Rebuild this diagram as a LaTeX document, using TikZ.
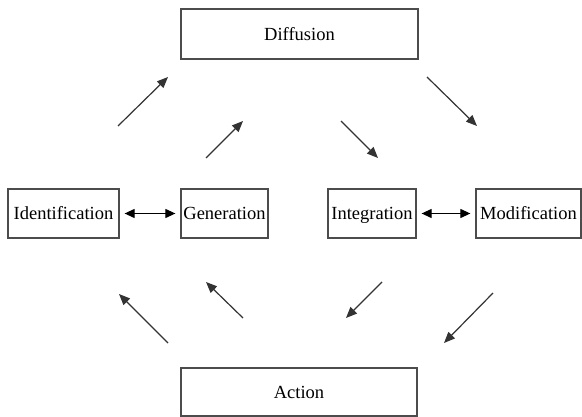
\documentclass[tikz,border=0pt]{standalone}
\usepackage{fontspec}
\setmainfont{Liberation Serif}
\usetikzlibrary{arrows.meta}
\begin{document}
\begin{tikzpicture}[x=1pt,y=-1pt,
  stage/.style={draw=black!70, line width=1.3pt, inner sep=0pt, align=center,
    font=\fontsize{18.5}{20}\selectfont, text height=13pt, text depth=0pt,
    minimum height=49pt},
  flow/.style={draw=black!80, line width=1.2pt, -{Triangle[length=11pt,width=9pt]}},
  link/.style={draw=black, line width=1.2pt, {Triangle[length=10pt,width=9pt]}-{Triangle[length=10pt,width=9pt]}, shorten >=5pt, shorten <=5pt}]
\useasboundingbox (0,0) rectangle (582,417);
% stage boxes
\node[stage, minimum width=237pt, minimum height=50pt] (diff) at (299.5,34) {Diffusion};
\node[stage, minimum width=236pt, minimum height=48pt] (act) at (299,392) {Action};
\node[stage, minimum width=111pt] (ident) at (63.5,213.5) {Identification};
\node[stage, minimum width=87pt] (gen) at (224.5,213.5) {Generation};
\node[stage, minimum width=88pt] (integ) at (372,213.5) {Integration};
\node[stage, minimum width=105pt] (modif) at (528.5,213.5) {Modification};
% two-way links
\draw[link] (ident) -- (gen);
\draw[link] (integ) -- (modif);
% free-standing cycle arrows
\coordinate (a1s) at (118,126); \coordinate (a1e) at (168,77);
\coordinate (a2s) at (206,158); \coordinate (a2e) at (243,121);
\coordinate (a3s) at (341,121); \coordinate (a3e) at (378,158);
\coordinate (a4s) at (427,77);  \coordinate (a4e) at (477,126);
\coordinate (a5s) at (168,343); \coordinate (a5e) at (119,294);
\coordinate (a6s) at (243,318); \coordinate (a6e) at (206,282);
\coordinate (a7s) at (382,282); \coordinate (a7e) at (346,318);
\coordinate (a8s) at (493,293); \coordinate (a8e) at (444,343);
\foreach \i in {1,...,8} \draw[flow] (a\i s) -- (a\i e);
\end{tikzpicture}
\end{document}
